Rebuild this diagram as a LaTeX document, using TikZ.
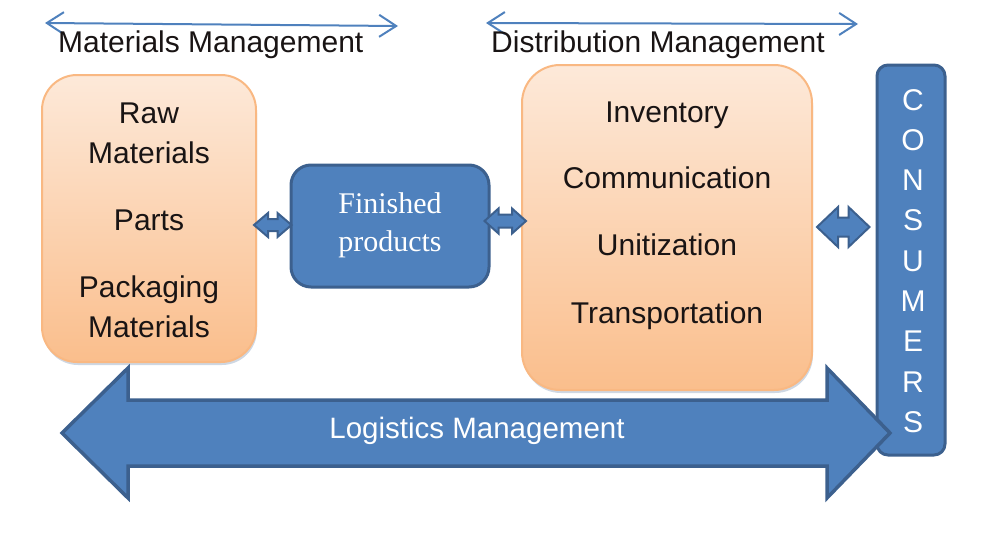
\documentclass[tikz,border=0pt]{standalone}
\usepackage{fontspec}
\setmainfont{Liberation Sans}
\newfontfamily\serifF{Liberation Serif}
\usetikzlibrary{arrows.meta,calc,shadows}
\definecolor{blueF}{RGB}{79,129,189}
\definecolor{blueD}{RGB}{60,96,142}
\definecolor{orT}{RGB}{253,233,217}
\definecolor{orB}{RGB}{250,190,140}
\definecolor{orD}{RGB}{249,184,130}
\definecolor{txtC}{RGB}{25,20,20}
\newcommand\dblarrowpath[5]{%
  \draw[dblar] (#1) -- ($(#1)+(#3,-#4)$) -- ($(#1)+(#3,-#5)$) -- ($(#2)+(-#3,-#5)$)
   -- ($(#2)+(-#3,-#4)$) -- (#2) -- ($(#2)+(-#3,#4)$) -- ($(#2)+(-#3,#5)$)
   -- ($(#1)+(#3,#5)$) -- ($(#1)+(#3,#4)$) -- cycle;}
\begin{document}
\begin{tikzpicture}[x=1pt,y=-1pt,
  orbox/.style={draw=orD, line width=2pt, top color=orT, bottom color=orB, inner sep=0pt,
    drop shadow={opacity=0.25, shadow xshift=1pt, shadow yshift=-3pt, fill=blueD}},
  bluebox/.style={draw=blueD, line width=3pt, fill=blueF, inner sep=0pt},
  dblar/.style={draw=blueD, line width=2pt, fill=blueF, line join=miter},
  bigar/.style={draw=blueD, line width=3.5pt, fill=blueF, line join=miter},
  toparrow/.style={draw=blueF, line width=2pt,
    {Straight Barb[length=17pt,width=22pt]}-{Straight Barb[length=17pt,width=22pt]}},
  lbl/.style={font=\fontsize{30}{36}\selectfont, text=txtC, inner sep=0pt},
  wlbl/.style={font=\fontsize{30}{36}\selectfont, text=white, inner sep=0pt},
  slbl/.style={font=\serifF\fontsize{30}{36}\selectfont, text=white, inner sep=0pt},
  ]
\useasboundingbox (0,0) rectangle (1000,533);

% top range arrows and titles
\coordinate (ma1) at (45,23);
\coordinate (ma2) at (398,26);
\coordinate (da1) at (486,23);
\coordinate (da2) at (858,24);
\draw[toparrow] (ma1) -- (ma2);
\draw[toparrow] (da1) -- (da2);
\node[lbl, anchor=base west] (mm) at (58,52) {Materials Management};
\node[lbl, anchor=base west] (dm) at (491,52) {Distribution Management};

% boxes
\node[orbox, rounded corners=35pt, minimum width=214pt, minimum height=287pt] (raw) at (149,218.5) {};
\node[orbox, rounded corners=38pt, minimum width=290pt, minimum height=325pt] (inv) at (667,227.5) {};
\node[bluebox, rounded corners=20pt, minimum width=198pt, minimum height=122pt] (fin) at (390,226) {};
\node[bluebox, rounded corners=11pt, minimum width=68pt, minimum height=390pt] (cons) at (911,260) {};

% small double arrows
\coordinate (sa1) at ($(raw.east)+(-3,6.5)$);
\coordinate (sa2) at ($(fin.west)+(2,-1)$);
\coordinate (sb1) at ($(fin.east)+(-6,-5)$);
\coordinate (sb2) at ($(inv.west)+(5,-6.5)$);
\coordinate (sc1) at ($(inv.east)+(4,-0.5)$);
\coordinate (sc2) at ($(cons.west)+(-6,-33)$);
\dblarrowpath{sa1}{sa2}{14}{12}{6}
\dblarrowpath{sb1}{sb2}{14}{12.5}{6.5}
\dblarrowpath{sc1}{sc2}{21}{20}{9.5}

% big logistics arrow
\coordinate (la) at (62,433);
\coordinate (lb) at (890,433);
\draw[bigar] (la) -- ($(la)+(66,-65)$) -- ($(la)+(66,-33)$) -- ($(lb)+(-63,-33)$)
  -- ($(lb)+(-63,-65)$) -- (lb) -- ($(lb)+(-63,65)$) -- ($(lb)+(-63,33)$)
  -- ($(la)+(66,33)$) -- ($(la)+(66,65)$) -- cycle;
\node[wlbl, anchor=base, font=\fontsize{29.5}{36}\selectfont] (lm) at (477,438) {Logistics Management};

% texts in left box
\node[lbl, anchor=base] (r1) at (149,123) {Raw};
\node[lbl, anchor=base] (r2) at (149,163) {Materials};
\node[lbl, anchor=base] (r3) at (149,230) {Parts};
\node[lbl, anchor=base] (r4) at (149,297) {Packaging};
\node[lbl, anchor=base] (r5) at (149,337) {Materials};

% texts in right box
\node[lbl, anchor=base] (d1) at (667,122) {Inventory};
\node[lbl, anchor=base] (d2) at (667,188) {Communication};
\node[lbl, anchor=base] (d3) at (667,255) {Unitization};
\node[lbl, anchor=base] (d4) at (667,323) {Transportation};

% finished products
\node[slbl, anchor=base] (f1) at (390,213) {Finished};
\node[slbl, anchor=base] (f2) at (390,251) {products};

% consumers
\foreach \ch [count=\i from 0] in {C,O,N,S,U,M,E,R,S}{
  \node[wlbl, anchor=base] (c\i) at (913,{110+40.3*\i}) {\ch};
}
\end{tikzpicture}
\end{document}
